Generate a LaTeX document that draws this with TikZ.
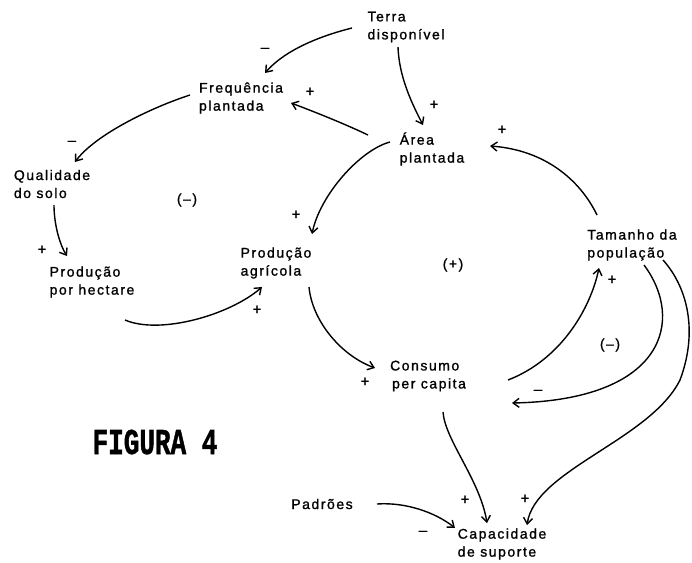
\documentclass[tikz,border=0pt]{standalone}
\usepackage{fontspec}
\setmainfont{Liberation Sans}
\newfontfamily\lblfont{Liberation Sans}[LetterSpace=11,FakeBold=1.2]
\newfontfamily\sgnfont{Liberation Sans}[FakeBold=1.2]
\newfontfamily\figfont{Liberation Mono}[FakeBold=1.5]
\usetikzlibrary{arrows.meta}
\begin{document}
\begin{tikzpicture}[x=1pt,y=-1pt,
  lbl/.style={inner sep=0pt,align=left,font=\lblfont\fontsize{14}{18}\selectfont},
  sgn/.style={inner sep=0pt,font=\sgnfont\fontsize{15}{18}\selectfont},
  conn/.style={line width=1.4pt,-{Straight Barb[length=6pt,width=9pt,line width=1.4pt]}}]
\useasboundingbox (0,0) rectangle (692,562);
% nodes
\node[lbl] (terra) at (406,27) {Terra\\disponível};
\node[lbl] (freq) at (241,98) {Frequência\\plantada};
\node[lbl] (area) at (432,149) {Área\\plantada};
\node[lbl] (qual) at (52,184) {Qualidade\\do solo};
\node[lbl] (prodha) at (92,282) {Produção\\por hectare};
\node[lbl] (prodag) at (276,263) {Produção\\agrícola};
\node[lbl] (tam) at (632,245) {Tamanho da\\população};
\node[lbl] (cons) at (428,376) {Consumo\\\hspace*{2pt}per capita};
\node[lbl] (cap) at (502,544) {Capacidade\\de suporte};
\node[lbl] (pad) at (322,504) {Padrões};
\node[inner sep=0pt] (fig) at (155,442) {\scalebox{1}[1.4]{\figfont\bfseries\fontsize{26}{26}\selectfont FIGURA 4}};
% loop labels
\node[lbl] (l1) at (187,200) {(–)};
\node[lbl] (l2) at (453,265) {(+)};
\node[lbl] (l3) at (610,345) {(–)};
% polarity signs
\node[sgn] (s1) at (265,50) {–};
\node[sgn] (s2) at (434,105) {+};
\node[sgn] (s3) at (310,92) {+};
\node[sgn] (s4) at (72,143) {–};
\node[sgn] (s5) at (42,250) {+};
\node[sgn] (s6) at (257,310) {+};
\node[sgn] (s7) at (296,215) {+};
\node[sgn] (s8) at (365,382) {+};
\node[sgn] (s9) at (502,130) {+};
\node[sgn] (s10) at (612,280) {+};
\node[sgn] (s11) at (538,392) {–};
\node[sgn] (s12) at (465,500) {+};
\node[sgn] (s13) at (525,499) {+};
\node[sgn] (s14) at (423,533) {–};
% connectors
\draw[conn] ([shift={(-54,1)}]terra.center) .. controls (320,36) and (285,50) .. ([shift={(24,-25)}]freq.center);
\draw[conn] ([shift={(-8,20)}]terra.center) .. controls (399,75) and (410,100) .. ([shift={(-9,-24)}]area.center);
\draw[conn] ([shift={(-64,-14)}]area.center) .. controls (345,124) and (315,112) .. ([shift={(50,5)}]freq.center);
\draw[conn] ([shift={(-51,-3)}]freq.center) .. controls (150,108) and (95,135) .. ([shift={(23,-22)}]qual.center);
\draw[conn] ([shift={(2,21)}]qual.center) .. controls (54,225) and (60,245) .. ([shift={(-25,-26)}]prodha.center);
\draw[conn] ([shift={(33,38)}]prodha.center) .. controls (160,335) and (230,315) .. ([shift={(-14,24)}]prodag.center);
\draw[conn] ([shift={(-42,-7)}]area.center) .. controls (360,150) and (320,195) .. ([shift={(36,-29)}]prodag.center);
\draw[conn] ([shift={(33,24)}]prodag.center) .. controls (312,320) and (340,355) .. ([shift={(-53,-8)}]cons.center);
\draw[conn] ([shift={(-35,-30)}]tam.center) .. controls (580,180) and (545,150) .. ([shift={(58,-3)}]area.center);
\draw[conn] ([shift={(80,4)}]cons.center) .. controls (560,360) and (590,310) .. ([shift={(-33,23)}]tam.center);
\draw[conn] ([shift={(12,20)}]tam.center) .. controls (685,320) and (665,400) .. ([shift={(84,27)}]cons.center);
\draw[conn] ([shift={(31,15)}]tam.center) .. controls (688,288) and (698,332) .. (680,380) .. controls (650,440) and (535,470) .. ([shift={(25,-19)}]cap.center);
\draw[conn] ([shift={(15,36)}]cons.center) .. controls (445,440) and (480,480) .. ([shift={(-15,-21)}]cap.center);
\draw[conn] ([shift={(55,0)}]pad.center) .. controls (405,502) and (435,512) .. ([shift={(-47,-16)}]cap.center);
\end{tikzpicture}
\end{document}
